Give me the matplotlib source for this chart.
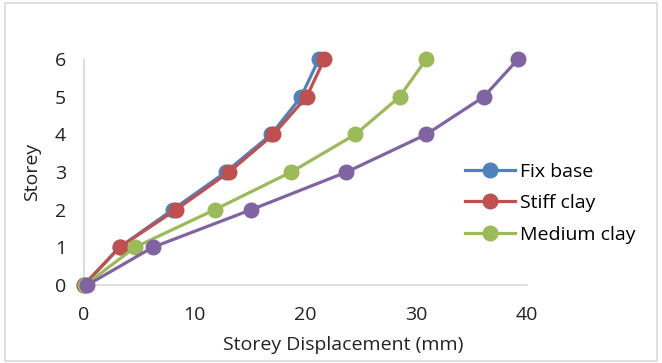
import matplotlib
matplotlib.use('Agg')
import matplotlib.pyplot as plt
from matplotlib.patches import Rectangle

plt.rcParams['font.family'] = ['Open Sans', 'DejaVu Sans']

# storey levels and displacements (mm)
storeys = [0, 1, 2, 3, 4, 5, 6]
fix_base = [0.0, 3.2, 8.0, 12.8, 16.9, 19.6, 21.2]
stiff_clay = [0.0, 3.2, 8.3, 13.1, 17.1, 20.1, 21.7]
medium_clay = [0.1, 4.6, 11.8, 18.7, 24.5, 28.5, 30.9]
soft_clay = [0.3, 6.2, 15.1, 23.7, 30.9, 36.1, 39.2]

series = [
    ('Fix base', fix_base, '#4F81BD'),
    ('Stiff clay', stiff_clay, '#C0504D'),
    ('Medium clay', medium_clay, '#9BBB59'),
    ('_Soft clay', soft_clay, '#8064A2'),  # not shown in the legend
]

fig = plt.figure(figsize=(6.62, 3.63), dpi=100)
ax = fig.add_axes([0.127, 0.215, 0.669, 0.622])

for name, vals, col in series:
    ax.plot(vals, storeys, color=col, lw=2.3, marker='o', ms=10.5,
            label=name, clip_on=False, zorder=3)

ax.set_xlim(0, 40)
ax.set_ylim(0, 6)
ax.set_xticks([0, 10, 20, 30, 40])
ax.set_yticks(storeys)
for s in ['top', 'right']:
    ax.spines[s].set_visible(False)
for s in ['left', 'bottom']:
    ax.spines[s].set_color('#d9d9d9')
    ax.spines[s].set_linewidth(1.2)
ax.tick_params(length=0, labelsize=14, colors='#222222')
ax.tick_params(axis='x', pad=15)
ax.tick_params(axis='y', pad=13)

ax.set_xlabel('Storey Displacement (mm)', fontsize=14, color='#222222')
ax.xaxis.set_label_coords(0.585, -0.225)
ax.set_ylabel('Storey', fontsize=14, color='#222222', labelpad=10)

ax.legend(loc='center left', bbox_to_anchor=(455 / 662, 0.44),
          bbox_transform=fig.transFigure, frameon=False, borderpad=0,
          fontsize=14, handlelength=2.6, handletextpad=0.25, labelspacing=0.7)

fig.patches.append(Rectangle((0.008, 0.005), 0.984, 0.988, transform=fig.transFigure,
                             fill=False, edgecolor='#d9d9d9', lw=1.2))

fig.savefig('out.png', dpi=100)
